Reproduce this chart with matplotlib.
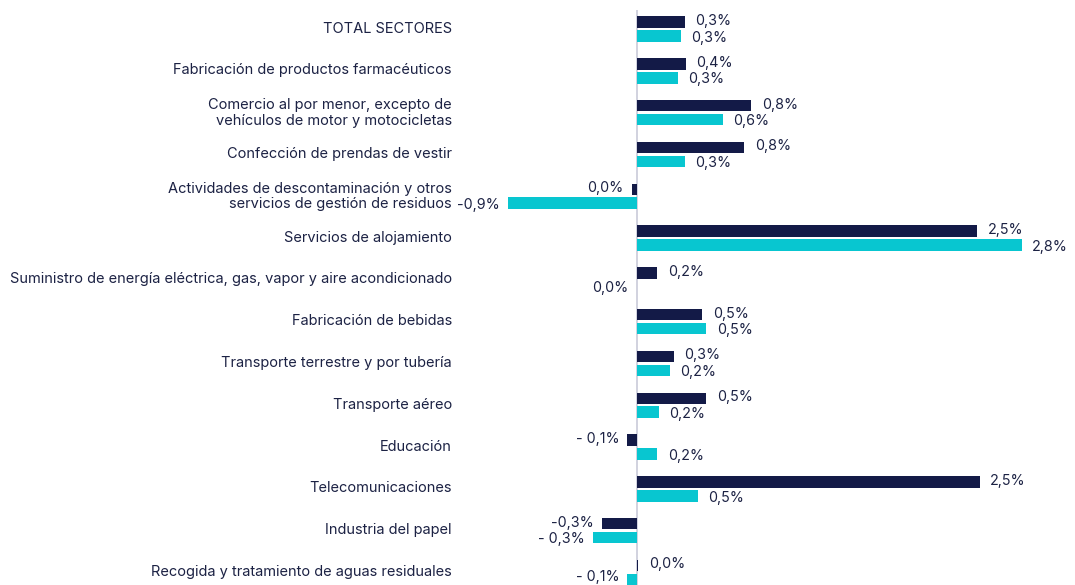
import numpy as np
import matplotlib.pyplot as plt
import matplotlib.transforms as mtransforms

plt.rcParams['font.family'] = ['Inter', 'DejaVu Sans']

categories = [
    "TOTAL SECTORES",
    "Fabricación de productos farmacéuticos",
    "Comercio al por menor, excepto de\nvehículos de motor y motocicletas",
    "Confección de prendas de vestir",
    "Actividades de descontaminación y otros\nservicios de gestión de residuos",
    "Servicios de alojamiento",
    "Suministro de energía eléctrica, gas, vapor y aire acondicionado",
    "Fabricación de bebidas",
    "Transporte terrestre y por tubería",
    "Transporte aéreo",
    "Educación",
    "Telecomunicaciones",
    "Industria del papel",
    "Recogida y tratamiento de aguas residuales",
]

serie_a = [0.35, 0.36, 0.84, 0.79, -0.04, 2.50, 0.15, 0.48, 0.27, 0.51, -0.07, 2.52, -0.26, 0.01]
serie_b = [0.32, 0.30, 0.63, 0.35, -0.95, 2.83, 0.00, 0.51, 0.24, 0.16, 0.15, 0.45, -0.32, -0.07]

labels_a = ["0,3%", "0,4%", "0,8%", "0,8%", "0,0%", "2,5%", "0,2%", "0,5%", "0,3%", "0,5%",
            "- 0,1%", "2,5%", "-0,3%", "0,0%"]
labels_b = ["0,3%", "0,3%", "0,6%", "0,3%", "-0,9%", "2,8%", "0,0%", "0,5%", "0,2%", "0,2%",
            "0,2%", "0,5%", "- 0,3%", "- 0,1%"]

navy = "#131a47"
cyan = "#08c6d0"
text_col = "#1c2244"

fig = plt.figure(figsize=(10.75, 5.85), dpi=100)
ax = fig.add_axes([470 / 1075, 0, 590 / 1075, 1 - 10 / 585])

y = np.arange(len(categories))
h = 0.275
off = 0.167
ax.barh(y - off, serie_a, height=h, color=navy)
ax.barh(y + off, serie_b, height=h, color=cyan)

ax.axvline(0, color="#c9cbd9", lw=1.2, zorder=0)

ax.set_xlim(-167 / 136, 423 / 136)
ax.set_ylim(13.3, -0.455)

def put_labels(vals, labs, yy, dy):
    for i, (v, lab, yv) in enumerate(zip(vals, labs, yy)):
        d = dy
        if i == len(vals) - 1 and dy < 0:
            d = 2.0  # keep the last label inside the picture
        if v > 0:
            ax.annotate(lab, (v, yv), xytext=(7.5, d), textcoords="offset points",
                        ha="left", va="center", fontsize=10.3, color=text_col)
        else:
            ax.annotate(lab, (v, yv), xytext=(-6, d), textcoords="offset points",
                        ha="right", va="center", fontsize=10.3, color=text_col)

put_labels(serie_a, labels_a, y - off, 0.8)
put_labels(serie_b, labels_b, y + off, -1.2)

ax.set_yticks(y)
ax.set_yticklabels(categories, fontsize=10.5, color=text_col, linespacing=1.15)
ax.tick_params(axis="y", length=0, pad=13)
shift = mtransforms.ScaledTranslation(0, 2 / 100, fig.dpi_scale_trans)
for t in ax.get_yticklabels():
    t.set_transform(t.get_transform() + shift)
ax.set_xticks([])
for s in ax.spines.values():
    s.set_visible(False)

fig.savefig("out.png", dpi=100)
